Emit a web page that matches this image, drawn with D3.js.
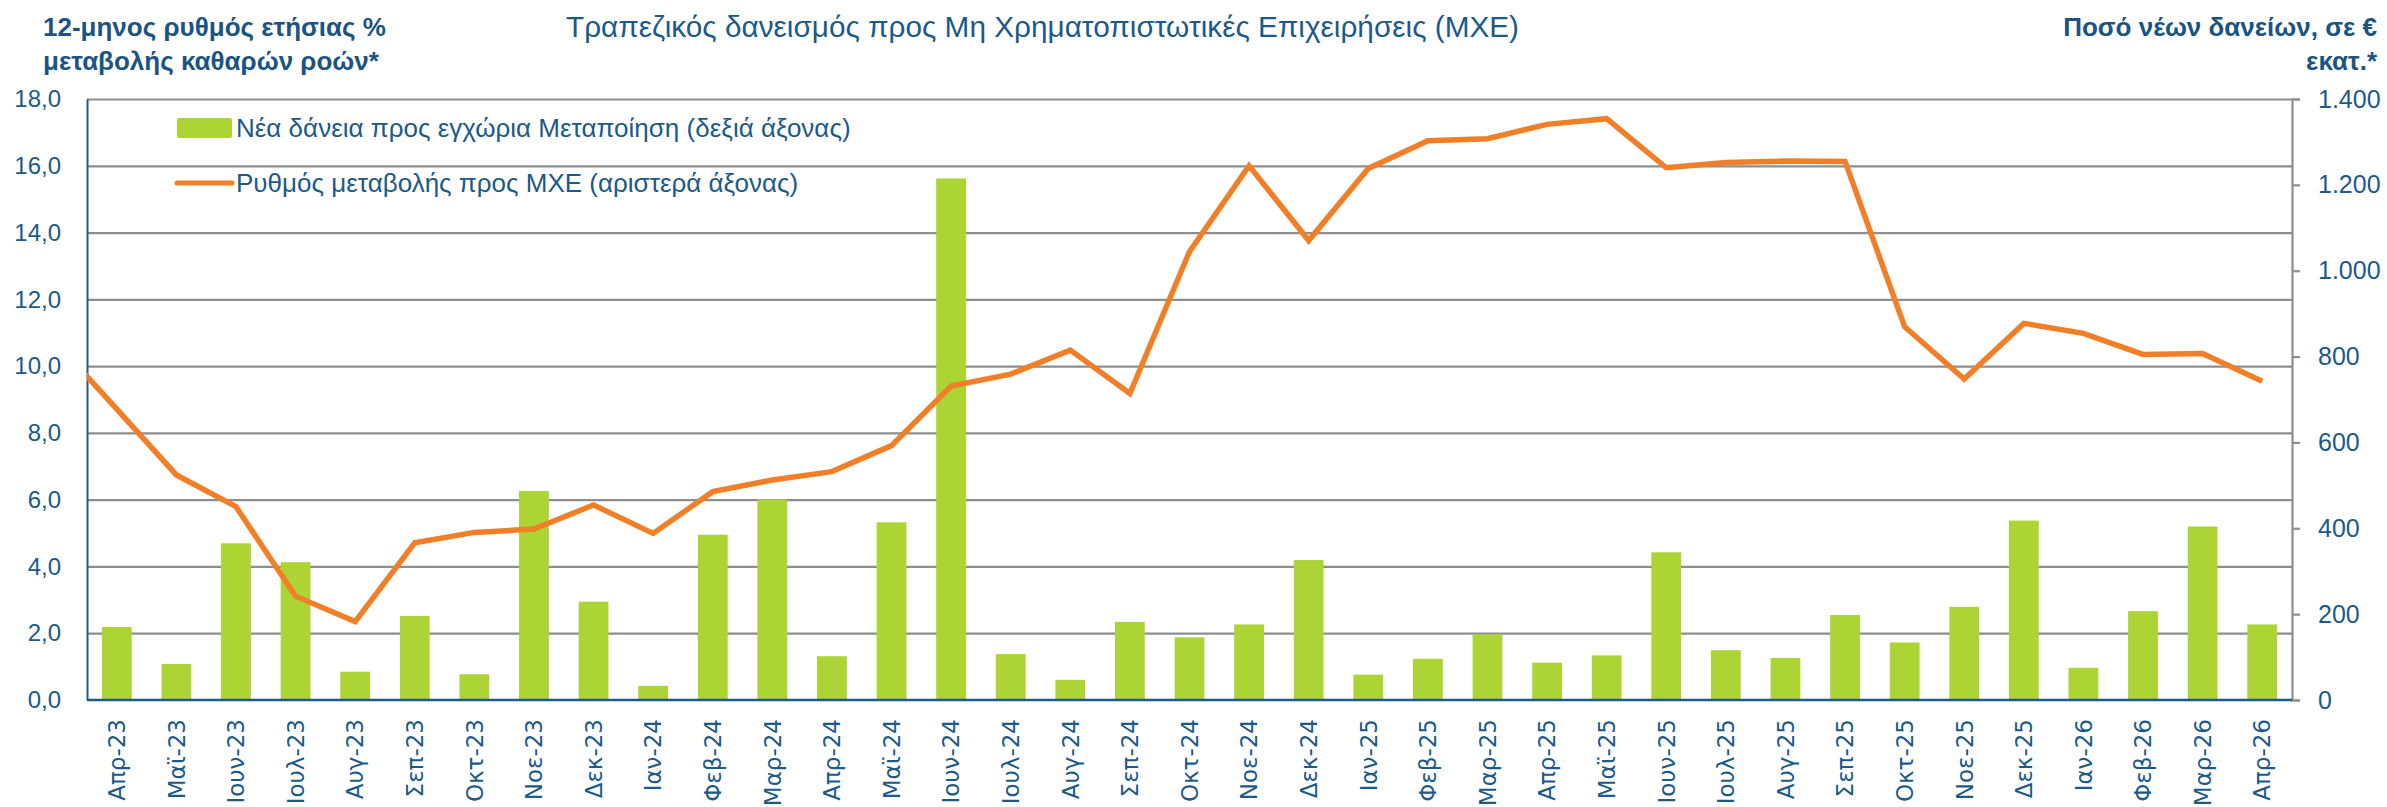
<!DOCTYPE html>
<html>
<head>
<meta charset="utf-8">
<script src="https://cdn.jsdelivr.net/npm/d3@7"></script>
<style>
  html, body { margin: 0; padding: 0; background: #ffffff; }
  svg { display: block; }
</style>
</head>
<body>
<svg id="chart" width="2387" height="807"></svg>
<script>
// ---------------- DATA ----------------
const categories = ["Απρ-23","Μαϊ-23","Ιουν-23","Ιουλ-23","Αυγ-23","Σεπ-23","Οκτ-23","Νοε-23","Δεκ-23",
  "Ιαν-24","Φεβ-24","Μαρ-24","Απρ-24","Μαϊ-24","Ιουν-24","Ιουλ-24","Αυγ-24","Σεπ-24","Οκτ-24","Νοε-24","Δεκ-24",
  "Ιαν-25","Φεβ-25","Μαρ-25","Απρ-25","Μαϊ-25","Ιουν-25","Ιουλ-25","Αυγ-25","Σεπ-25","Οκτ-25","Νοε-25","Δεκ-25",
  "Ιαν-26","Φεβ-26","Μαρ-26","Απρ-26"];

// New loans to domestic manufacturing, € million (right axis)
const newLoans = [170, 84, 365, 321, 66, 196, 60, 487, 229,
  33, 385, 467, 102, 414, 1215, 107, 47, 182, 146, 176, 326,
  59, 96, 153, 87, 104, 344, 116, 98, 198, 134, 217, 418,
  75, 207, 404, 176];

// Line series categories (includes preceding month, clipped at the plot edge)
const lineCategories = ["Μαρ-23"].concat(categories);
// 12-month growth rate of net flows to NFCs, % (left axis)
const growthRate = [10.68, 8.71, 6.74, 5.79, 3.11, 2.35, 4.71, 5.02, 5.12, 5.84,
  4.99, 6.24, 6.59, 6.84, 7.62, 9.40, 9.76, 10.48, 9.18, 13.43, 16.0, 13.76,
  15.92, 16.75, 16.81, 17.24, 17.41, 15.94, 16.10, 16.14, 16.13, 11.18, 9.61, 11.28,
  10.98, 10.35, 10.38, 9.55];

const leftTicks = [0, 2, 4, 6, 8, 10, 12, 14, 16, 18];
const rightTicks = [0, 200, 400, 600, 800, 1000, 1200, 1400];

const chartTitle = "Τραπεζικός δανεισμός προς Μη Χρηματοπιστωτικές Επιχειρήσεις (ΜΧΕ)";
const leftTitle = ["12-μηνος ρυθμός ετήσιας %", "μεταβολής καθαρών ροών*"];
const rightTitle = ["Ποσό νέων δανείων, σε €", "εκατ.*"];
const legendLabels = ["Νέα δάνεια προς εγχώρια Μεταποίηση (δεξιά άξονας)", "Ρυθμός μεταβολής προς ΜΧΕ (αριστερά άξονας)"];

// ---------------- LAYOUT ----------------
const plot = { left: 87, right: 2292, top: 99, bottom: 700 };
const C = {
  bar: "#acd434",
  line: "#f07f27",
  grid: "#8e8e8e",
  axisBlue: "#1f5a8a",
  label: "#1c5a87",
  title: "#1b5482"
};
const fontMain = "'Liberation Sans', Arial, sans-serif";
const fontTicks = "'DejaVu Sans', sans-serif";

const locale = d3.formatLocale({ decimal: ",", thousands: ".", grouping: [3], currency: ["", "€"] });
const fmtLeft = locale.format(".1f");
const fmtRight = locale.format(",.0f");

const svg = d3.select("#chart");

const x = d3.scaleBand().domain(categories).range([plot.left, plot.right])
  .paddingInner(0.5).paddingOuter(0.25);
const step = x.step();
const xLine = d3.scalePoint().domain(lineCategories)
  .range([x(categories[0]) + x.bandwidth() / 2 - step, x(categories[categories.length - 1]) + x.bandwidth() / 2]);

const yL = d3.scaleLinear().domain([0, 18]).range([plot.bottom, plot.top]);
const yR = d3.scaleLinear().domain([0, 1400]).range([plot.bottom, plot.top]);

// clip path
svg.append("defs").append("clipPath").attr("id", "plotClip")
  .append("rect").attr("x", plot.left).attr("y", plot.top - 10)
  .attr("width", plot.right - plot.left).attr("height", plot.bottom - plot.top + 10);

// gridlines (left axis)
const gridAxis = d3.axisLeft(yL).tickValues(leftTicks.filter(d => d > 0)).tickSize(-(plot.right - plot.left)).tickFormat("");
const gridG = svg.append("g").attr("transform", `translate(${plot.left},0)`).call(gridAxis);
gridG.select(".domain").remove();
gridG.selectAll(".tick line").attr("stroke", C.grid).attr("stroke-width", 2.2);

// left axis labels
const leftAxis = d3.axisLeft(yL).tickValues(leftTicks).tickSize(0).tickPadding(26).tickFormat(fmtLeft);
const lg = svg.append("g").attr("transform", `translate(${plot.left},0)`).call(leftAxis);
lg.select(".domain").attr("stroke", C.axisBlue).attr("stroke-width", 2);
lg.selectAll(".tick text").attr("fill", C.label).style("font-family", fontMain).style("font-size", "24px");

// right axis
const rightAxis = d3.axisRight(yR).tickValues(rightTicks).tickSize(8).tickPadding(18).tickFormat(fmtRight);
const rg = svg.append("g").attr("transform", `translate(${plot.right},0)`).call(rightAxis);
rg.select(".domain").attr("stroke", C.grid).attr("stroke-width", 2.2);
rg.selectAll(".tick line").attr("stroke", C.grid).attr("stroke-width", 2.2);
rg.selectAll(".tick text").attr("fill", C.label).style("font-family", fontMain).style("font-size", "25px");

// bars
svg.append("g").selectAll("rect").data(newLoans).join("rect")
  .attr("x", (d, i) => x(categories[i]))
  .attr("width", x.bandwidth())
  .attr("y", d => yR(d))
  .attr("height", d => yR(0) - yR(d))
  .attr("fill", C.bar);

// bottom axis
const bottomAxis = d3.axisBottom(x).tickSize(0).tickPadding(0);
const bg = svg.append("g").attr("transform", `translate(0,${plot.bottom})`).call(bottomAxis);
bg.select(".domain").attr("stroke", C.axisBlue).attr("stroke-width", 2.5)
  .attr("d", `M${plot.left},0H${plot.right}`);
bg.selectAll(".tick text")
  .attr("fill", C.label)
  .style("font-family", fontTicks).style("font-size", "23px")
  .attr("text-anchor", "end")
  .attr("transform", "rotate(-90)")
  .attr("x", -19).attr("y", 0).attr("dy", "0.36em");

// line
const lineGen = d3.line().x((d, i) => xLine(lineCategories[i])).y(d => yL(d));
svg.append("path").datum(growthRate)
  .attr("clip-path", "url(#plotClip)")
  .attr("d", lineGen)
  .attr("fill", "none").attr("stroke", C.line).attr("stroke-width", 5.5)
  .attr("stroke-linejoin", "miter").attr("stroke-linecap", "butt");

// titles
svg.append("text").attr("x", 566).attr("y", 37)
  .attr("fill", C.label).style("font-family", fontMain).style("font-size", "29px")
  .attr("textLength", 953).attr("lengthAdjust", "spacingAndGlyphs")
  .text(chartTitle);

svg.append("g").selectAll("text").data(leftTitle).join("text")
  .attr("x", 43).attr("y", (d, i) => 36 + i * 34)
  .attr("fill", C.title).style("font-family", fontMain).style("font-size", "26px").style("font-weight", "bold")
  .text(d => d);

svg.append("g").selectAll("text").data(rightTitle).join("text")
  .attr("x", 2377).attr("y", (d, i) => 36 + i * 34)
  .attr("text-anchor", "end")
  .attr("fill", C.title).style("font-family", fontMain).style("font-size", "26px").style("font-weight", "bold")
  .text(d => d);

// legend
const leg = svg.append("g");
leg.append("rect").attr("x", 177).attr("y", 118).attr("width", 55).attr("height", 20).attr("rx", 2).attr("fill", C.bar);
leg.append("line").attr("x1", 177).attr("x2", 232).attr("y1", 183).attr("y2", 183)
  .attr("stroke", C.line).attr("stroke-width", 5).attr("stroke-linecap", "round");
leg.selectAll("text").data(legendLabels).join("text")
  .attr("x", 236).attr("y", (d, i) => 128 + i * 55).attr("dy", "0.36em")
  .attr("fill", C.label).style("font-family", fontMain).style("font-size", "26px")
  .text(d => d);
</script>
</body>
</html>
